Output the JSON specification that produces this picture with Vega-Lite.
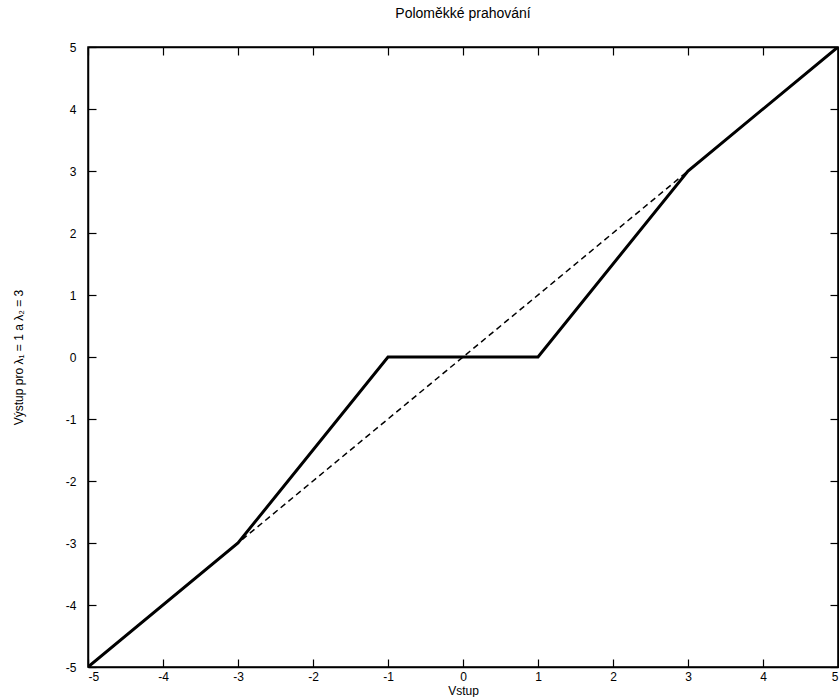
{
  "$schema": "https://vega.github.io/schema/vega-lite/v6.json",
  "width": 750,
  "height": 620,
  "autosize": "none",
  "padding": {"left": 88, "top": 47, "right": 1, "bottom": 30},
  "background": "white",
  "title": {"text": "Poloměkké prahování", "fontSize": 14, "font": "Liberation Sans", "fontWeight": "normal", "color": "black", "offset": 20},
  "config": {
    "view": {"stroke": "black", "strokeWidth": 1.5},
    "font": "Liberation Sans",
    "axis": {"grid": false, "domainColor": "black", "tickColor": "black", "labelColor": "black", "titleColor": "black", "labelFont": "Liberation Sans", "titleFont": "Liberation Sans", "labelFontSize": 12, "titleFontSize": 12, "titleFontWeight": "normal", "tickSize": -8, "tickWidth": 1.2, "domainWidth": 1.5, "labelExpr": "replace(datum.label, '−', '-')"}
  },
  "data": {"values": [
    {"x": -5, "y": -5, "s": "semisoft"},
    {"x": -3, "y": -3, "s": "semisoft"},
    {"x": -1, "y": 0, "s": "semisoft"},
    {"x": 1, "y": 0, "s": "semisoft"},
    {"x": 3, "y": 3, "s": "semisoft"},
    {"x": 5, "y": 5, "s": "semisoft"},
    {"x": -5, "y": -5, "s": "identity"},
    {"x": 5, "y": 5, "s": "identity"}
  ]},
  "layer": [
    {
      "transform": [{"filter": "datum.s === 'identity'"}],
      "mark": {"type": "line", "color": "black", "strokeWidth": 1.5, "strokeDash": [6, 4], "clip": true},
      "encoding": {
        "x": {"field": "x", "type": "quantitative", "scale": {"domain": [-5, 5], "nice": false, "zero": false}, "axis": {"values": [-5, -4, -3, -2, -1, 0, 1, 2, 3, 4, 5], "title": "Vstup", "labelPadding": 12, "labelBaseline": "top", "titlePadding": 3, "titleBaseline": "top"}},
        "y": {"field": "y", "type": "quantitative", "scale": {"domain": [-5, 5], "nice": false, "zero": false}, "axis": {"values": [-5, -4, -3, -2, -1, 0, 1, 2, 3, 4, 5], "title": "Výstup pro λ₁ = 1 a λ₂ = 3", "labelPadding": 20, "titlePadding": 40}}
      }
    },
    {
      "transform": [{"filter": "datum.s === 'semisoft'"}],
      "mark": {"type": "line", "color": "black", "strokeWidth": 3, "clip": true},
      "encoding": {
        "x": {"field": "x", "type": "quantitative", "scale": {"domain": [-5, 5], "nice": false, "zero": false}, "axis": {"orient": "top", "values": [-5, -4, -3, -2, -1, 0, 1, 2, 3, 4, 5], "labels": false, "title": null}},
        "y": {"field": "y", "type": "quantitative", "scale": {"domain": [-5, 5], "nice": false, "zero": false}, "axis": {"orient": "right", "values": [-5, -4, -3, -2, -1, 0, 1, 2, 3, 4, 5], "labels": false, "title": null}}
      }
    }
  ],
  "resolve": {"scale": {"x": "independent", "y": "independent"}, "axis": {"x": "independent", "y": "independent"}}
}
